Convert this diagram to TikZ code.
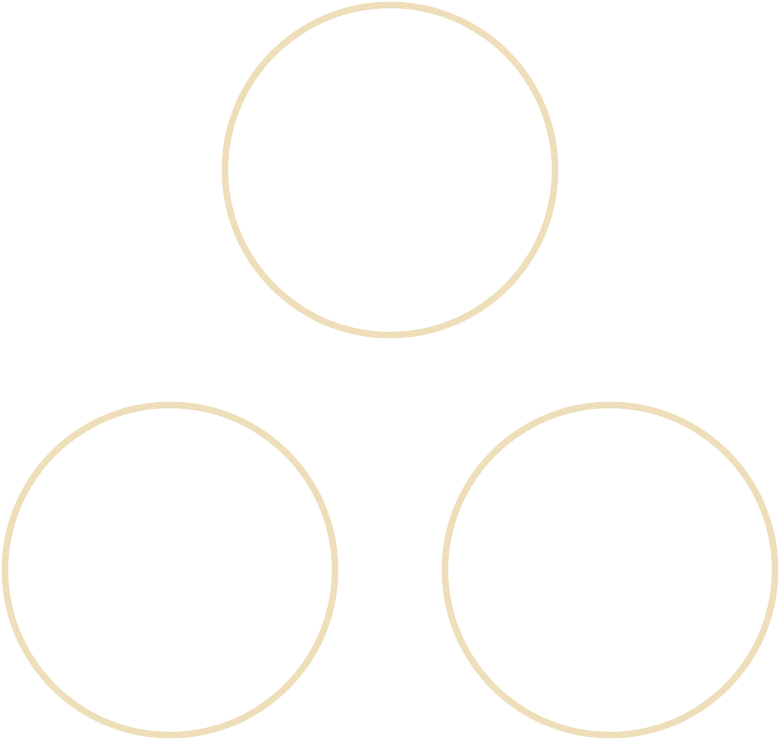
\documentclass[tikz,border=0pt]{standalone}
\definecolor{ringtan}{HTML}{EEDFBA}
\begin{document}
\begin{tikzpicture}[x=1pt,y=-1pt,
    ringline/.style={draw=ringtan,line width=6.5pt}]
    \useasboundingbox (0,0) rectangle (780,740);

    % Kreise
    \draw[ringline] (390,170) circle[radius=165];
    \draw[ringline] (170,570) circle[radius=165];
    \draw[ringline] (610,570) circle[radius=165];
\end{tikzpicture}
\end{document}
